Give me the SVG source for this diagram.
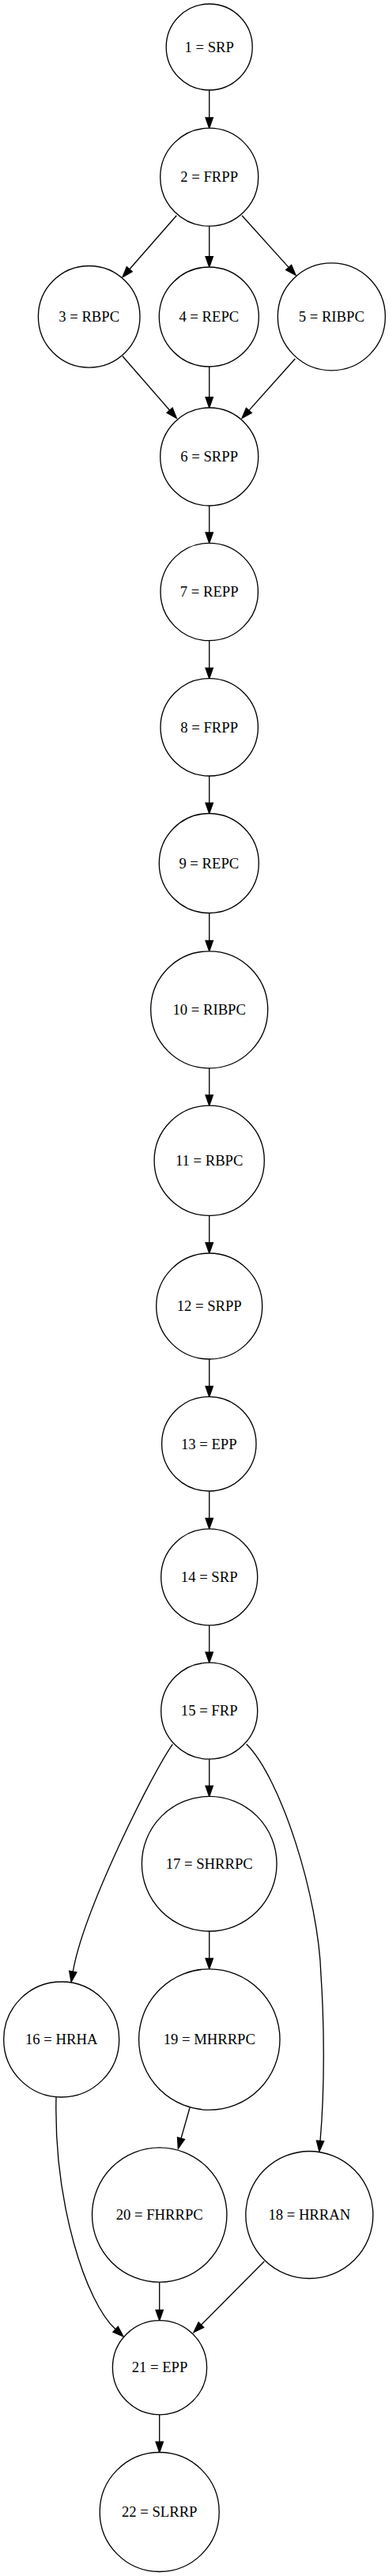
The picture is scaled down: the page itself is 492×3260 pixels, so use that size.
<svg xmlns="http://www.w3.org/2000/svg" width="492" height="3260" viewBox="0 0 492 3260">
<style>
.n circle{fill:#fff;stroke:#000;stroke-width:1.33}
.n text{font-family:"Liberation Serif","Times New Roman",serif;font-size:18.67px;text-anchor:middle;fill:#000}
.e path{fill:none;stroke:#000;stroke-width:1.33}
</style>
<defs>
<marker id="ah" markerUnits="userSpaceOnUse" markerWidth="20" markerHeight="14" refX="0" refY="0" orient="auto" overflow="visible">
<path d="M0,-4.67 L13.33,0 L0,4.67 Z" fill="#000" stroke="#000" stroke-width="1.33"/>
</marker>
</defs>
<rect width="492" height="3260" fill="#fff"/>
<g id="edges" class="e">
<path marker-end="url(#ah)" d="M264.7,114 L264.7,148.9"/>
<path marker-end="url(#ah)" d="M223.3,272.7 L163.8,340.7"/>
<path marker-end="url(#ah)" d="M264.7,286.2 L264.7,324.7"/>
<path marker-end="url(#ah)" d="M306,272.7 L365.1,338.4"/>
<path marker-end="url(#ah)" d="M155,450.7 L214.6,519.2"/>
<path marker-end="url(#ah)" d="M264.7,464 L264.7,502.7"/>
<path marker-end="url(#ah)" d="M373.3,454 L314.9,519.4"/>
<path marker-end="url(#ah)" d="M264.7,640 L264.7,674"/>
<path marker-end="url(#ah)" d="M264.7,810.7 L264.7,845.3"/>
<path marker-end="url(#ah)" d="M264.7,982 L264.7,1016.2"/>
<path marker-end="url(#ah)" d="M264.7,1155.5 L264.7,1190.5"/>
<path marker-end="url(#ah)" d="M264.7,1351.8 L264.7,1385.9"/>
<path marker-end="url(#ah)" d="M264.7,1538.4 L264.7,1572.7"/>
<path marker-end="url(#ah)" d="M264.7,1720 L264.7,1754.3"/>
<path marker-end="url(#ah)" d="M264.7,1887 L264.7,1921.5"/>
<path marker-end="url(#ah)" d="M264.7,2056.8 L264.7,2090.9"/>
<path marker-end="url(#ah)" d="M218.3,2207.3 C190,2248 105,2420 92.3,2495.2"/>
<path marker-end="url(#ah)" d="M264.7,2226.2 L264.7,2260.1"/>
<path marker-end="url(#ah)" d="M311.7,2207.3 C355,2250 403,2400 406,2500 C410,2560 411,2640 405,2709.4"/>
<path marker-end="url(#ah)" d="M264.7,2444 L264.7,2478.5"/>
<path marker-end="url(#ah)" d="M240,2667.5 L229,2706.2"/>
<path marker-end="url(#ah)" d="M71,2654 C68,2790 109,2914 146.1,2947.8"/>
<path marker-end="url(#ah)" d="M201.7,2888.2 L201.7,2923.3"/>
<path marker-end="url(#ah)" d="M334.3,2861.7 L254.4,2942.2"/>
<path marker-end="url(#ah)" d="M201.7,3055.8 L201.7,3090.2"/>
</g>
<g id="n1" class="n"><circle cx="264.7" cy="59.5" r="54.5"/><text x="264.7" y="65.7">1 = SRP</text></g>
<g id="n2" class="n"><circle cx="264.7" cy="224.2" r="62"/><text x="264.7" y="230.4">2 = FRPP</text></g>
<g id="n3" class="n"><circle cx="112.7" cy="400.8" r="64.3"/><text x="112.7" y="407">3 = RBPC</text></g>
<g id="n4" class="n"><circle cx="264.3" cy="401" r="63"/><text x="264.3" y="407.2">4 = REPC</text></g>
<g id="n5" class="n"><circle cx="419.3" cy="400.8" r="68"/><text x="419.3" y="407">5 = RIBPC</text></g>
<g id="n6" class="n"><circle cx="264.7" cy="578" r="62"/><text x="264.7" y="584.2">6 = SRPP</text></g>
<g id="n7" class="n"><circle cx="264.7" cy="749" r="61.7"/><text x="264.7" y="755.2">7 = REPP</text></g>
<g id="n8" class="n"><circle cx="264.7" cy="920.3" r="61.7"/><text x="264.7" y="926.5">8 = FRPP</text></g>
<g id="n9" class="n"><circle cx="264.3" cy="1092.5" r="63"/><text x="264.3" y="1098.7">9 = REPC</text></g>
<g id="n10" class="n"><circle cx="264.7" cy="1277.8" r="74"/><text x="264.7" y="1284">10 = RIBPC</text></g>
<g id="n11" class="n"><circle cx="264.7" cy="1468.8" r="69.6"/><text x="264.7" y="1475">11 = RBPC</text></g>
<g id="n12" class="n"><circle cx="264.7" cy="1653" r="67"/><text x="264.7" y="1659.2">12 = SRPP</text></g>
<g id="n13" class="n"><circle cx="264.3" cy="1827.3" r="59.7"/><text x="264.3" y="1833.5">13 = EPP</text></g>
<g id="n14" class="n"><circle cx="264.7" cy="1995.8" r="61"/><text x="264.7" y="2002">14 = SRP</text></g>
<g id="n15" class="n"><circle cx="264.7" cy="2165.2" r="61"/><text x="264.7" y="2171.4">15 = FRP</text></g>
<g id="n16" class="n"><circle cx="77.7" cy="2581" r="73"/><text x="77.7" y="2587.2">16 = HRHA</text></g>
<g id="n17" class="n"><circle cx="264.7" cy="2358.7" r="85.3"/><text x="264.7" y="2364.9">17 = SHRRPC</text></g>
<g id="n18" class="n"><circle cx="391.3" cy="2803" r="80.5"/><text x="391.3" y="2809.2">18 = HRRAN</text></g>
<g id="n19" class="n"><circle cx="264.8" cy="2581" r="89.2"/><text x="264.8" y="2587.2">19 = MHRRPC</text></g>
<g id="n20" class="n"><circle cx="201.7" cy="2803" r="85.2"/><text x="201.7" y="2809.2">20 = FHRRPC</text></g>
<g id="n21" class="n"><circle cx="202" cy="2996.2" r="59.6"/><text x="202" y="3002.4">21 = EPP</text></g>
<g id="n22" class="n"><circle cx="201.7" cy="3179" r="75.5"/><text x="201.7" y="3185.2">22 = SLRRP</text></g>
</svg>
